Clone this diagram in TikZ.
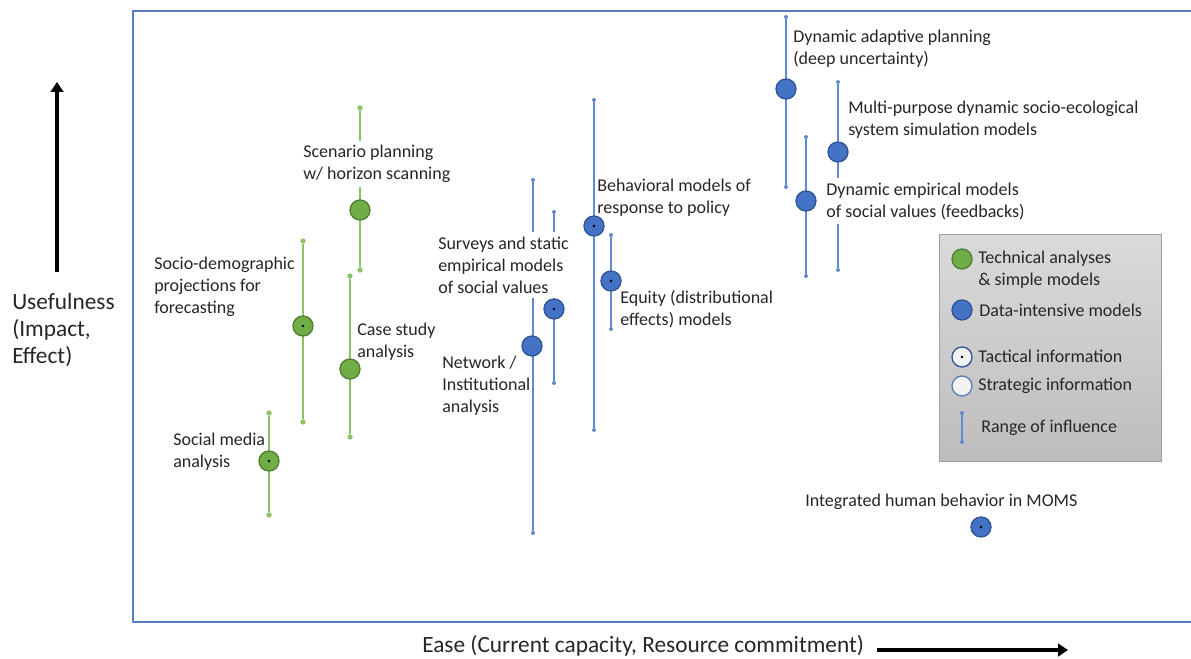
\documentclass[tikz,border=0pt]{standalone}
\usepackage{fontspec}
\setmainfont{Carlito}
\usetikzlibrary{arrows.meta}
\pgfdeclarelayer{bglayer}
\pgfdeclarelayer{linelayer}
\pgfsetlayers{bglayer,linelayer,main}
\definecolor{gfill}{HTML}{70AD47}
\definecolor{gedge}{HTML}{507E32}
\definecolor{gline}{HTML}{8CC266}
\definecolor{bfill}{HTML}{4472C4}
\definecolor{bedge}{HTML}{2F5597}
\definecolor{bline}{HTML}{6389D2}
\definecolor{framec}{HTML}{5B7DBE}
\definecolor{lgtop}{HTML}{DADADA}
\definecolor{lgbot}{HTML}{BDBDBD}
\definecolor{lgedge}{HTML}{A0A0A0}
\definecolor{txt}{HTML}{262626}
\tikzset{
  lbl/.style={anchor=west, inner xsep=0pt, inner ysep=1pt, align=left, text=txt,
    font=\fontsize{13.5}{16.5}\selectfont},
  lblw/.style={lbl, fill=white, inner ysep=3.5pt},
  axl/.style={anchor=west, inner sep=0pt, align=left, text=txt,
    font=\fontsize{17.5}{20.25}\selectfont},
  gcirc/.style={circle, draw=gedge, fill=gfill, line width=1pt, minimum size=15pt, inner sep=0pt},
  bcirc/.style={circle, draw=bedge, fill=bfill, line width=1pt, minimum size=15pt, inner sep=0pt},
  tact/.style={path picture={\fill[black] (path picture bounding box.center) circle (1.1pt);}},
  gdot/.style={circle, fill=gline, minimum size=4pt, inner sep=0pt},
  bdot/.style={circle, fill=bline, minimum size=3pt, inner sep=0pt},
  grange/.style={draw=gline, line width=1.3pt},
  brange/.style={draw=bline, line width=1pt},
  bigarrow/.style={line width=3.6pt, -{Triangle[length=7.5pt,width=9.5pt]}},
}
\begin{document}
\begin{tikzpicture}[x=0.75pt,y=-0.75pt]
\useasboundingbox (0,0) rectangle (1191,659);

% ---------- endpoints of ranges ----------
\node[gdot] (sp-t) at (360,108) {};  \node[gdot] (sp-b) at (360,270) {};
\node[gdot] (sd-t) at (303,241) {};  \node[gdot] (sd-b) at (303,422) {};
\node[gdot] (cs-t) at (350,276) {};  \node[gdot] (cs-b) at (350,437) {};
\node[gdot] (sm-t) at (269,413) {};  \node[gdot] (sm-b) at (269,515) {};
\node[bdot] (ni-t) at (533,180) {};  \node[bdot] (ni-b) at (533,533) {};
\node[bdot] (sv-t) at (554,212) {};  \node[bdot] (sv-b) at (554,383) {};
\node[bdot] (bm-t) at (594,100) {};  \node[bdot] (bm-b) at (594,430) {};
\node[bdot] (eq-t) at (611,235) {};  \node[bdot] (eq-b) at (611,329) {};
\node[bdot] (da-t) at (786,17) {};   \node[bdot] (da-b) at (786,187) {};
\node[bdot] (mp-t) at (838,82) {};   \node[bdot] (mp-b) at (838,270) {};
\node[bdot] (de-t) at (806,137) {};  \node[bdot] (de-b) at (806,276) {};
\node[bdot] (lr-t) at (962,413) {};  \node[bdot] (lr-b) at (962,442) {};

% ---------- labels ----------
\node[lblw] (sp-l) at (303,164) {Scenario planning\\w/ horizon scanning};
\node[lbl] (sd-l) at (154,287) {Socio-demographic\\projections for\\forecasting};
\node[lbl] (cs-l) at (357,342) {Case study\\analysis};
\node[lbl] (sm-l) at (173,452) {Social media\\analysis};
\node[lbl] (ni-l) at (442,386) {Network /\\Institutional\\analysis};
\node[lblw] (sv-l) at (438,265) {Surveys and static\\empirical models\\of social values};
\node[lbl] (bm-l) at (597,198) {Behavioral models of\\response to policy};
\node[lbl] (eq-l) at (620,309) {Equity (distributional\\effects) models};
\node[lbl] (da-l) at (793,49) {Dynamic adaptive planning\\(deep uncertainty)};
\node[lbl] (mp-l) at (848,120) {Multi-purpose dynamic socio-ecological\\system simulation models};
\node[lblw] (de-l) at (826,201) {Dynamic empirical models\\of social values (feedbacks)};
\node[lbl] (ih-l) at (805,502) {Integrated human behavior in MOMS};

% ---------- markers ----------
\node[gcirc] (sp) at (360,210) {};
\node[gcirc,tact] (sd) at (303,326) {};
\node[gcirc] (cs) at (350,369) {};
\node[gcirc,tact] (sm) at (269,461) {};
\node[bcirc] (ni) at (532,346) {};
\node[bcirc,tact] (sv) at (554,309) {};
\node[bcirc,tact] (bm) at (594,226) {};
\node[bcirc,tact] (eq) at (611,281) {};
\node[bcirc] (da) at (786,89) {};
\node[bcirc] (mp) at (838,152) {};
\node[bcirc] (de) at (806,201) {};
\node[bcirc,tact] (ih) at (981,527) {};

% ---------- legend contents ----------
\node[gcirc] (lg-g) at (962,259) {};
\node[lbl] (lg-gl) at (978,270) {Technical analyses\\\& simple models};
\node[bcirc] (lg-d) at (962,310) {};
\node[lbl] (lg-dl) at (979,310) {Data-intensive models};
\node[circle, draw=bedge, fill=white!95!black, line width=1pt, minimum size=15pt, inner sep=0pt, tact] (lg-tc) at (962,357) {};
\node[lbl] (lg-tl) at (978,356) {Tactical information};
\node[circle, draw=framec, fill=white!95!black, line width=1pt, minimum size=15pt, inner sep=0pt] (lg-sc) at (962,386) {};
\node[lbl] (lg-sl) at (978,386) {Strategic information};
\node[lbl] (lg-rl) at (981,428) {Range of influence};

% ---------- axes ----------
\node[axl] (yl) at (12,330) {Usefulness\\(Impact,\\Effect)};
\node[axl] (xl) at (422,646) {Ease (Current capacity, Resource commitment)};
\coordinate (ya0) at (57,272); \coordinate (ya1) at (57,82);
\coordinate (xa0) at (877,650); \coordinate (xa1) at (1068,650);
\draw[bigarrow] (ya0) -- (ya1);
\draw[bigarrow] (xa0) -- (xa1);

% ---------- frame and legend box ----------
\begin{pgfonlayer}{bglayer}
  \coordinate (f1) at (1191,11); \coordinate (f2) at (133,11);
  \coordinate (f3) at (133,622); \coordinate (f4) at (1191,622);
  \draw[framec, line width=1.1pt] (f1) -- (f2) -- (f3) -- (f4);
  \node[draw=lgedge, line width=0.8pt, top color=lgtop, bottom color=lgbot,
        minimum width=166.5pt, minimum height=170.25pt, anchor=north west, inner sep=0pt]
        (legend) at (939,234) {};
\end{pgfonlayer}

% ---------- range lines ----------
\begin{pgfonlayer}{linelayer}
  \draw[grange] (sp-t) -- (sp-b);
  \draw[grange] (sd-t) -- (sd-b);
  \draw[grange] (cs-t) -- (cs-b);
  \draw[grange] (sm-t) -- (sm-b);
  \draw[brange] (ni-t) -- (ni-b);
  \draw[brange] (sv-t) -- (sv-b);
  \draw[brange] (bm-t) -- (bm-b);
  \draw[brange] (eq-t) -- (eq-b);
  \draw[brange] (da-t) -- (da-b);
  \draw[brange] (mp-t) -- (mp-b);
  \draw[brange] (de-t) -- (de-b);
  \draw[brange] (lr-t) -- (lr-b);
\end{pgfonlayer}
\end{tikzpicture}
\end{document}
